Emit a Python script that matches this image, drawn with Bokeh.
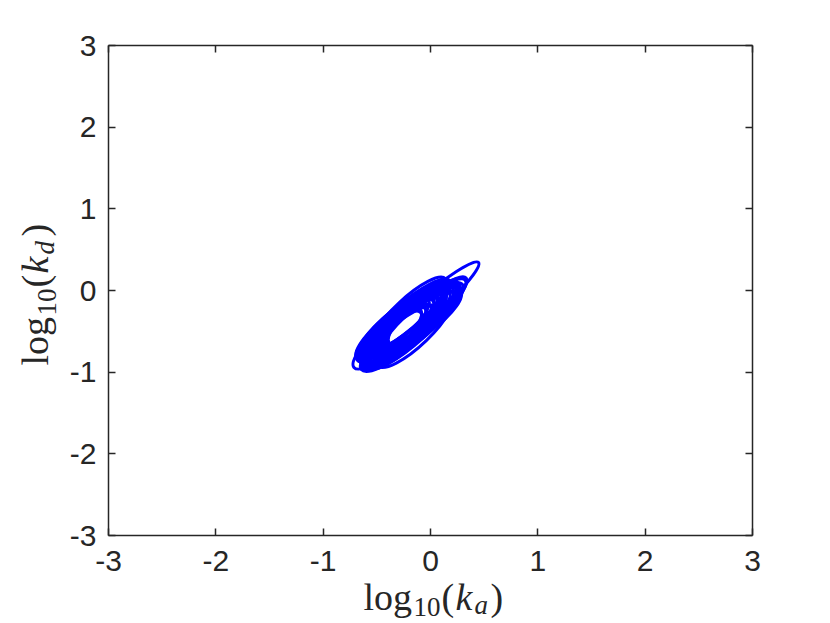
import math
from bokeh.plotting import figure
from bokeh.layouts import row, column
from bokeh.core.properties import value
from bokeh.models import Range1d, FixedTicker, LinearAxis, Label, LabelSet, ColumnDataSource
from bokeh.embed import file_html
from bokeh.resources import INLINE

# ---- data: confidence ellipses in (log10 ka, log10 kd) ----
ell_x = [-0.093, -0.354, -0.345, -0.345, -0.056, -0.075, -0.093, -0.157, -0.249, -0.249,
         -0.215, -0.143, -0.294, -0.107, -0.317, -0.293, -0.056, -0.130, -0.202, -0.282,
         -0.200, -0.240, -0.170, -0.300, -0.110, -0.330, -0.050, -0.260, -0.110, -0.330,
         -0.180, -0.280, -0.150, -0.310, -0.080, -0.220, -0.240, -0.360]
ell_y = [-0.275, -0.539, -0.606, -0.478, -0.294, -0.275, -0.324, -0.455, -0.336, -0.506,
         -0.324, -0.473, -0.411, -0.318, -0.569, -0.490, -0.318, -0.392, -0.273, -0.584,
         -0.420, -0.450, -0.380, -0.460, -0.360, -0.520, -0.250, -0.360, -0.300, -0.560,
         -0.430, -0.420, -0.350, -0.500, -0.300, -0.480, -0.380, -0.570]
ell_w = [1.433, 0.792, 0.718, 0.847, 0.902, 0.837, 0.896, 1.118, 1.099, 1.025,
         1.044, 0.978, 1.006, 1.096, 0.864, 0.838, 0.827, 0.873, 0.932, 0.932,
         1.060, 1.000, 1.120, 0.950, 1.180, 1.000, 0.950, 1.100, 0.880, 0.760,
         1.080, 1.040, 1.000, 0.900, 0.900, 1.060, 1.060, 0.740]
ell_h = [0.269, 0.367, 0.318, 0.294, 0.343, 0.318, 0.294, 0.343, 0.318, 0.269,
         0.294, 0.392, 0.294, 0.318, 0.294, 0.392, 0.367, 0.392, 0.343, 0.343,
         0.400, 0.440, 0.360, 0.380, 0.320, 0.340, 0.300, 0.340, 0.340, 0.340,
         0.380, 0.400, 0.330, 0.360, 0.320, 0.300, 0.340, 0.300]
ell_angle = [41.0, 41.2, 45.5, 39.6, 38.3, 42.7, 37.8, 42.0, 40.0, 41.0,
             39.0, 44.0, 38.0, 37.7, 42.8, 41.8, 35.8, 39.8, 43.0, 39.0,
             40.5, 42.0, 40.0, 41.0, 41.5, 40.0, 38.0, 39.0, 38.5, 43.5,
             41.0, 39.5, 40.5, 42.0, 39.0, 41.5, 40.0, 44.0]

ticks = [-3, -2, -1, 0, 1, 2, 3]
tick_labels = ["-3", "-2", "-1", "0", "1", "2", "3"]

AX = "#262626"
FW, FH = 644, 490                 # plot box size in px
BL, BR, BT, BB = 44, 56, 45, 11   # borders of the main figure
YLW = 64                          # width of the y-label strip
XLH = 74                          # height of the x-label strip
TOTAL_H = BT + FH + BB + XLH

p = figure(frame_width=FW, frame_height=FH, output_backend="svg", toolbar_location=None,
           x_range=Range1d(-3, 3), y_range=Range1d(-3, 3),
           min_border_left=BL, min_border_right=BR, min_border_top=BT, min_border_bottom=BB)
p.grid.visible = False
p.outline_line_color = None
p.frame_align = False

p.add_layout(LinearAxis(), "above")
p.add_layout(LinearAxis(), "right")

overrides = {t: l for t, l in zip(ticks, tick_labels)}
for ax in p.axis:
    ax.ticker = FixedTicker(ticks=ticks)
    ax.minor_tick_line_color = None
    ax.axis_line_color = AX
    ax.axis_line_width = 1.5
    ax.major_tick_line_color = AX
    ax.major_tick_line_width = 1.5
    ax.major_tick_in = 7
    ax.major_tick_out = 0
    ax.major_label_overrides = overrides
    ax.major_label_text_font = "Liberation Sans"
    ax.major_label_text_font_size = "30px"
    ax.major_label_text_color = AX

# the left axis keeps its own labels; x tick labels are set in the strip below
for ax in p.above + p.right + p.below:
    ax.major_label_text_color = None
    ax.major_label_standoff = 0
p.yaxis[0].major_label_standoff = 12

src = ColumnDataSource(dict(x=ell_x, y=ell_y, w=ell_w, h=ell_h, a=ell_angle))
p.ellipse(x="x", y="y", width="w", height="h", angle="a", angle_units="deg",
          source=src, fill_color=None, line_color="#0000ff", line_width=3)


def text_fig(w, h, x_range=None):
    f = figure(width=w, height=h, output_backend="svg", toolbar_location=None,
               x_axis_type=None, y_axis_type=None, min_border=0,
               x_range=x_range or Range1d(0, 1), y_range=Range1d(0, 1))
    f.grid.visible = False
    f.outline_line_color = None
    f.frame_align = False
    return f


def piece(f, text, x, y, size, italic=False, angle=0.0):
    f.add_layout(Label(x=x, y=y, x_units="screen", y_units="screen", text=text,
                       text_font="Liberation Serif", text_font_size=f"{size}px",
                       text_font_style="italic" if italic else "normal",
                       text_color=AX, text_align="left", text_baseline="alphabetic",
                       angle=angle))


# strip under the plot: same x scale as the plot, widened to the strip's edges
px = FW / 6.0
xl = text_fig(BL + FW + BR, XLH, Range1d(-3 - BL / px, 3 + BR / px))
tick_src = ColumnDataSource(dict(x=ticks, text=tick_labels))
xl.add_layout(LabelSet(x="x", y=50, y_units="screen", text="text", source=tick_src,
                       text_font=value("Liberation Sans"), text_font_size=value("30px"),
                       text_color=AX, text_align="center", text_baseline="alphabetic"))

# x label: log10(k_a)
piece(xl, "log", 299, 24, 38)
piece(xl, "10", 349, 14, 27)
piece(xl, "(", 377, 24, 38)
piece(xl, "k", 391, 24, 38, italic=True)
piece(xl, "a", 410, 16, 27, italic=True)
piece(xl, ")", 426, 24, 38)

# y label: log10(k_d)
yl = text_fig(YLW, TOTAL_H)
r = math.pi / 2
piece(yl, "log", 34, 255, 38, angle=r)
piece(yl, "10", 46, 305, 27, angle=r)
piece(yl, "(", 34, 333, 38, angle=r)
piece(yl, "k", 34, 347, 38, italic=True, angle=r)
piece(yl, "d", 44, 366, 27, italic=True, angle=r)
piece(yl, ")", 34, 384, 38, angle=r)

layout = row(yl, column(p, xl))
open("out.html", "w").write(file_html(layout, INLINE))
